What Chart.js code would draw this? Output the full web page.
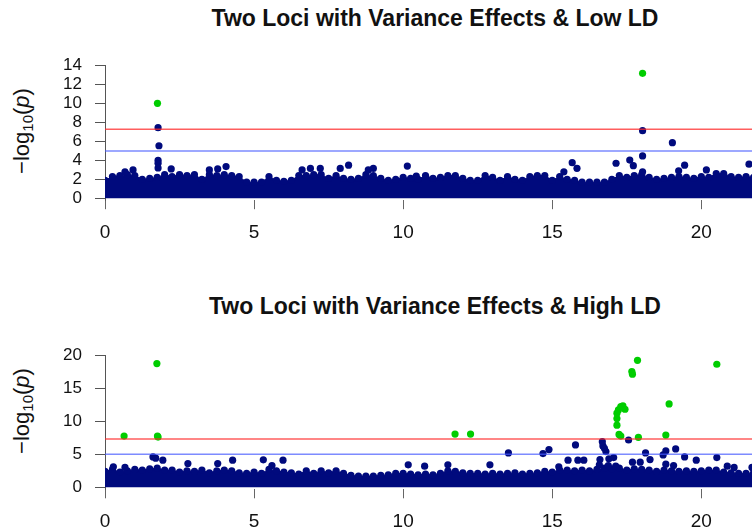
<!DOCTYPE html>
<html>
<head>
<meta charset="utf-8">
<script src="https://cdn.jsdelivr.net/npm/chart.js@4.4.1/dist/chart.umd.min.js"></script>
<style>
  body { margin: 0; overflow: hidden; background: #fff; }
  #wrap { position: relative; width: 756px; height: 531px; }
  canvas { position: absolute; left: 0; }
  .title {
    position: absolute; left: 135px; width: 600px; text-align: center;
    font: bold 23px 'Liberation Sans', Arial, sans-serif; line-height: 23px; color: #111;
  }
  .ylab {
    position: absolute; width: 200px; height: 22px; text-align: center;
    font: 22px 'Liberation Sans', Arial, sans-serif; line-height: 22px; color: #111;
    transform: rotate(-90deg); white-space: nowrap;
  }
  .ylab sub { font-size: 15px; vertical-align: -4px; line-height: 0; }
</style>
</head>
<body>
<div id="wrap">
  <div class="title" style="top:7px">Two Loci with Variance Effects &amp; Low LD</div>
  <div class="ylab" style="left:-78.5px;top:120px">−log<sub>10</sub>(<i>p</i>)</div>
  <canvas id="lowLd" width="756" height="265" style="top:0"></canvas>
  <div class="title" style="top:295px">Two Loci with Variance Effects &amp; High LD</div>
  <div class="ylab" style="left:-78.5px;top:400px">−log<sub>10</sub>(<i>p</i>)</div>
  <canvas id="highLd" width="756" height="266" style="top:265px"></canvas>
</div>
<script>
const NAVY = '#000a7d';
const GREEN = '#00cd00';

const xTicks = [0, 5, 10, 15, 20];
const lowTicks = [0, 2, 4, 6, 8, 10, 12, 14];
const highTicks = [0, 5, 10, 15, 20];

// genome-wide and suggestive thresholds
const sigLine = 7.3;
const suggestLine = 5;

// positions where the top of the dense cloud was read
const bandPos = [
  0, 0.25, 0.5, 0.75, 1, 1.25, 1.5, 1.75, 2, 2.25, 2.5, 2.75, 3, 3.25, 3.5, 3.75,
  4, 4.25, 4.5, 4.75, 5, 5.25, 5.5, 5.75, 6, 6.25, 6.5, 6.75, 7, 7.25, 7.5, 7.75,
  8, 8.25, 8.5, 8.75, 9, 9.25, 9.5, 9.75, 10, 10.25, 10.5, 10.75, 11, 11.25, 11.5, 11.75,
  12, 12.25, 12.5, 12.75, 13, 13.25, 13.5, 13.75, 14, 14.25, 14.5, 14.75, 15, 15.25, 15.5, 15.75,
  16, 16.25, 16.5, 16.75, 17, 17.25, 17.5, 17.75, 18, 18.25, 18.5, 18.75, 19, 19.25, 19.5, 19.75,
  20, 20.25, 20.5, 20.75, 21, 21.25, 21.5, 21.75
];

const lowBand = [
  1.9, 2.3, 2.4, 2.5, 2.4, 2.0, 2.1, 2.2, 2.5, 2.3, 2.5, 2.4, 2.5, 2.0, 2.5, 2.4,
  2.5, 2.4, 2.3, 1.7, 1.7, 1.7, 2.3, 1.9, 1.8, 1.9, 2.4, 2.4, 2.5, 2.5, 2.1, 2.4,
  2.1, 2.0, 2.1, 2.5, 2.4, 2.1, 1.9, 2.0, 2.2, 2.1, 2.0, 2.4, 2.1, 2.2, 2.4, 2.4,
  2.1, 1.9, 1.9, 2.4, 2.2, 1.9, 2.3, 2.0, 1.9, 2.3, 2.4, 2.4, 1.9, 2.3, 2.0, 1.9,
  1.7, 1.7, 1.7, 1.7, 2.0, 2.4, 2.2, 2.4, 2.5, 2.2, 2.0, 2.1, 2.2, 2.3, 2.2, 2.1,
  2.3, 2.2, 2.6, 2.6, 2.3, 2.2, 2.3, 2.2
];

const highBand = [
  2.4, 2.7, 2.3, 2.5, 2.7, 2.6, 2.8, 2.9, 2.6, 2.6, 2.3, 2.5, 2.4, 2.6, 2.2, 2.5,
  2.6, 2.5, 2.2, 2.1, 2.3, 2.1, 2.7, 2.5, 2.3, 2.2, 2.0, 2.5, 2.1, 2.5, 2.2, 2.5,
  2.1, 1.8, 1.7, 1.7, 1.7, 1.8, 1.9, 2.1, 2.1, 2.0, 1.9, 2.0, 1.9, 2.1, 2.5, 2.4,
  2.2, 2.1, 2.1, 2.0, 2.1, 2.0, 2.1, 2.2, 2.0, 2.1, 2.2, 2.4, 2.3, 2.6, 2.6, 2.5,
  2.6, 2.5, 2.7, 2.9, 2.8, 2.9, 2.6, 2.8, 2.7, 2.6, 2.4, 2.6, 2.5, 2.4, 2.5, 2.4,
  2.5, 2.6, 2.6, 2.3, 2.2, 2.1, 2.1, 2.2
];

// single markers standing above the cloud: [position, -log10(p)]
const lowHits = [
  [0.67, 2.8], [0.94, 3.0], [1.78, 7.46], [1.81, 5.55], [1.78, 4.0], [1.78, 3.7],
  [1.78, 3.2], [2.22, 3.1], [3.5, 3.0], [3.78, 3.1], [4.06, 3.35], [6.61, 3.0],
  [6.89, 3.15], [7.22, 3.15], [7.89, 3.15], [8.17, 3.5], [8.83, 3.0], [9.0, 3.15],
  [10.14, 3.4], [10.44, 2.35], [15.39, 2.8], [15.67, 3.76], [15.83, 3.17], [17.14, 3.7],
  [17.6, 4.04], [17.72, 3.45], [18.03, 4.47], [18.03, 7.14], [18.03, 2.8], [19.03, 5.87],
  [19.24, 2.9], [19.44, 3.5], [20.17, 3.0], [21.6, 3.6]
];
const lowSig = [[1.76, 10.03], [18.03, 13.2]];

const highHits = [
  [0.28, 3.1], [0.67, 3.0], [1.61, 4.6], [1.7, 4.4], [1.94, 4.1], [2.78, 3.6],
  [3.78, 3.6], [4.28, 4.1], [5.31, 4.15], [5.6, 3.3], [5.97, 4.1], [10.17, 3.4],
  [10.72, 3.2], [11.5, 3.4], [12.91, 3.4], [13.53, 5.2], [14.69, 5.1], [14.89, 5.7],
  [15.22, 3.1], [15.53, 4.1], [15.78, 6.4], [15.86, 4.1], [16.06, 4.1], [16.58, 3.4],
  [16.6, 4.2], [16.68, 6.9], [16.7, 6.25], [16.75, 5.9], [16.8, 5.4], [16.88, 3.3],
  [16.9, 4.3], [17.06, 4.5], [17.13, 3.2], [17.56, 7.15], [17.69, 3.8], [17.95, 3.8],
  [18.13, 5.2], [18.28, 4.2], [18.72, 4.9], [18.81, 5.5], [18.81, 3.5], [19.07, 3.3],
  [19.14, 5.8], [19.44, 4.6], [19.83, 4.1], [20.52, 4.5], [20.87, 3.2], [21.1, 3.0],
  [21.7, 3.0]
];
const highSig = [
  [0.64, 7.75], [1.74, 18.7], [1.76, 7.75], [1.78, 7.6], [11.74, 8.05], [12.26, 8.05],
  [17.17, 9.4], [17.17, 10.4], [17.17, 11.2], [17.22, 11.7], [17.3, 12.2], [17.37, 12.3],
  [17.44, 11.8], [17.24, 8.0], [17.3, 7.75], [17.67, 17.5], [17.69, 17.1], [17.86, 19.2],
  [17.89, 7.55], [18.81, 7.9], [18.92, 12.6], [20.52, 18.6]
];

const X_MAX = 21.7;
const FONT = "'Liberation Sans', Arial, sans-serif";

const toPoints = (pairs) => pairs.map((p) => ({ x: p[0], y: p[1] }));

function hLine(value, color) {
  return {
    type: 'line',
    data: [{ x: 0, y: value }, { x: X_MAX, y: value }],
    borderColor: color,
    borderWidth: 1.5,
    pointRadius: 0,
    showLine: true,
    order: 0
  };
}

function manhattan(id, opts) {
  return new Chart(document.getElementById(id), {
    type: 'scatter',
    data: {
      datasets: [
        hLine(sigLine, 'rgba(255, 40, 40, 0.75)'),
        hLine(suggestLine, 'rgba(70, 90, 255, 0.7)'),
        {
          type: 'line',
          data: bandPos.map((x, i) => ({ x: x, y: opts.band[i] })),
          showLine: true,
          fill: 'origin',
          tension: 0,
          borderColor: NAVY,
          borderWidth: 1,
          backgroundColor: NAVY,
          pointRadius: 3.6,
          pointBorderWidth: 0,
          pointBackgroundColor: NAVY,
          order: 3
        },
        {
          data: toPoints(opts.hits),
          pointRadius: 3.6,
          pointBorderWidth: 0,
          pointBackgroundColor: NAVY,
          order: 2
        },
        {
          data: toPoints(opts.sig),
          pointRadius: 3.6,
          pointBorderWidth: 0,
          pointBackgroundColor: GREEN,
          order: 1
        }
      ]
    },
    options: {
      responsive: false,
      animation: false,
      layout: { padding: { top: opts.top, left: 0, right: 0, bottom: 0 } },
      plugins: { legend: { display: false }, tooltip: { enabled: false } },
      scales: {
        x: {
          type: 'linear',
          min: 0,
          max: X_MAX,
          afterBuildTicks: (axis) => { axis.ticks = xTicks.map((v) => ({ value: v })); },
          afterFit: (axis) => { axis.height = opts.xHeight; },
          border: { display: false },
          grid: { drawOnChartArea: false, tickLength: 9, color: '#666', lineWidth: 1 },
          ticks: { padding: 12, autoSkip: false, maxRotation: 0, color: '#111', font: { family: FONT, size: 19 } }
        },
        y: {
          min: opts.yMin,
          max: opts.yMax,
          afterBuildTicks: (axis) => { axis.ticks = opts.yTicks.map((v) => ({ value: v })); },
          afterFit: (axis) => { axis.width = 105; },
          border: { display: true, color: '#555', width: 1 },
          grid: { drawOnChartArea: false, tickLength: 10, color: '#555', lineWidth: 1 },
          ticks: { padding: 13, autoSkip: false, color: '#111', font: { family: FONT, size: 17 } }
        }
      }
    }
  });
}

manhattan('lowLd', {
  band: lowBand, hits: lowHits, sig: lowSig,
  yTicks: lowTicks, yMin: -0.2, yMax: 14, top: 65.7, xHeight: 64.8
});

manhattan('highLd', {
  band: highBand, hits: highHits, sig: highSig,
  yTicks: highTicks, yMin: -0.3, yMax: 20, top: 90, xHeight: 41.7
});
</script>
</body>
</html>
